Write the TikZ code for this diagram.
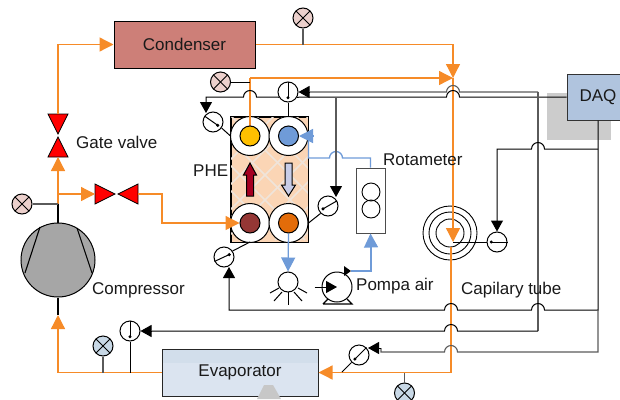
\documentclass[tikz,border=0pt]{standalone}
\usepackage{fontspec}
\setmainfont{Liberation Sans}
\usetikzlibrary{arrows.meta,calc}

\definecolor{pipeorange}{RGB}{246,139,40}
\definecolor{waterblue}{RGB}{111,155,216}
\definecolor{condred}{RGB}{205,127,120}
\definecolor{gaugepink}{RGB}{236,208,204}
\definecolor{gaugeblue}{RGB}{200,216,230}
\definecolor{sigdark}{RGB}{90,90,90}
\definecolor{evapblue}{RGB}{219,228,240}
\definecolor{evapband}{RGB}{210,222,235}
\definecolor{daqblue}{RGB}{176,196,222}
\definecolor{phefill}{RGB}{251,213,181}
\definecolor{phehatch}{RGB}{240,228,218}
\definecolor{hotred}{RGB}{165,0,33}
\definecolor{coolblue}{RGB}{200,205,232}
\definecolor{portyellow}{RGB}{255,192,0}
\definecolor{portred}{RGB}{149,55,53}
\definecolor{portorange}{RGB}{227,108,9}

\tikzset{
  lbl/.style={inner sep=0pt,font=\fontsize{17}{20}\selectfont,text=black!90},
  gauge/.style={circle,draw,fill=white,line width=1pt,minimum size=20pt,inner sep=0pt},
  xgauge/.style={gauge,fill=#1,path picture={
    \draw[line width=1pt] (path picture bounding box.north west) -- (path picture bounding box.south east);
    \draw[line width=1pt] (path picture bounding box.north east) -- (path picture bounding box.south west);}},
  ring/.style={circle,draw,fill=white,line width=1pt,minimum size=39pt,inner sep=0pt},
  port/.style={circle,draw,fill=#1,line width=1pt,minimum size=20pt,inner sep=0pt},
  coil/.style={circle,draw,line width=0.9pt,minimum size=#1,inner sep=0pt},
  unit/.style={draw,line width=1pt,inner sep=0pt},
  valve/.style={draw=black,fill=red,line width=0.7pt},
  pipe/.style={draw=pipeorange,line width=1.3pt},
  pipetip/.style={pipe,-{Triangle[length=14pt,width=14pt,fill=pipeorange]}},
  water/.style={draw=waterblue,line width=1.3pt},
  watertip/.style={water,-{Triangle[length=14pt,width=14pt,fill=waterblue]}},
  sig/.style={draw=black,line width=1pt},
  siggray/.style={draw=sigdark,line width=1.1pt},
  sigtip/.style={-{Triangle[length=11pt,width=12pt,fill=black]}},
}

% hop over a crossing line, going to the left
\newcommand{\hopL}[1]{-- ([xshift=6.5pt]#1) arc[start angle=0,end angle=-180,radius=6.5pt]}
% needle of a gauge
\newcommand{\needle}[2]{
  \draw[line width=1pt] (#1.#2) -- ($(#1.center)!0.55!(#1.#2+180)$);
  \fill ($(#1.center)!0.55!(#1.#2+180)$) circle (1.7pt);
}

\begin{document}
\begin{tikzpicture}[x=1pt,y=1pt,yscale=-1]
\useasboundingbox (0,0) rectangle (620,399);

% shadows
\fill[black!20] (547,93) rectangle (611,140);

% units
\node[unit,fill=condred,minimum width=141pt,minimum height=47pt] (cond) at (184.5,44.5) {};
\node[unit,fill=evapblue,draw=black!85,minimum width=156pt,minimum height=47pt] (evap) at (240,372.5) {};
\fill[evapband] (162.5,349.5) rectangle (317.5,363);
\fill[black!22] (257,399) -- (264,385) -- (273,385) -- (281,399) -- cycle;
\node[unit,fill=daqblue,draw=black!80,minimum width=56pt,minimum height=46pt] (daq) at (595,97) {};
\node[unit,minimum size=74pt,circle,fill=black!35] (comp) at (58,260) {};
\node[unit,draw=black!70,fill=white,minimum width=29pt,minimum height=65pt] (rota) at (370.5,200.5) {};
\node[coil=18pt,draw] (rotaA) at (371,192) {};
\node[coil=18pt,draw] (rotaB) at (371,209) {};

% compressor
\draw[line width=1.1pt] (40,227) -- (25,273);
\draw[line width=1.1pt] (77,228) -- (92,273);

% plate heat exchanger
\node[unit,fill=phefill,minimum width=77pt,minimum height=125pt] (phe) at (269.5,179.5) {};
\begin{scope}
  \clip (phe.south west) rectangle (phe.north east);
  \foreach \i in {0,25,...,225} {
    \draw[phehatch,line width=1.5pt] (100+\i,240) -- (100+\i+130,110);
    \draw[phehatch,line width=1.5pt] (100+\i,110) -- (100+\i+130,240);
  }
\end{scope}
\draw[line width=1pt] (phe.south west) rectangle (phe.north east);
\node[ring] (ringTL) at (250,136) {};
\node[ring] (ringTR) at (288.5,136) {};
\node[ring] (ringBL) at (250,223) {};
\node[ring] (ringBR) at (288.5,223) {};
\coordinate (ringTop) at (250,78);
\draw[pipe] (250,126) -- (ringTop);
\node[port=portyellow] (inTL) at (250,136) {};
\node[port=waterblue] (inTR) at (288.5,136) {};
\node[port=portred] (inBL) at (250,223) {};
\node[port=portorange] (inBR) at (288.5,223) {};
\draw[fill=hotred,line width=1pt] (250,163) -- (256.5,175) -- (253.5,175) -- (253.5,196) -- (246.5,196) -- (246.5,175) -- (243.5,175) -- cycle;
\draw[fill=coolblue,line width=1pt] (288.5,196) -- (295.5,185) -- (292,185) -- (292,163) -- (285,163) -- (285,185) -- (281.5,185) -- cycle;

% capillary tube
\node[coil=54pt] (capC) at (450,233) {};
\node[coil=42pt] (capB) at (450,233) {};
\node[coil=28pt] (capA) at (450,233) {};

% spray and pump
\node[gauge,minimum size=20pt] (spray) at (288,282) {};
\draw[line width=1pt] (288,292) -- (288,305);
\draw[line width=1pt] (282,292) -- (274,301);
\draw[line width=1pt] (294,292) -- (302,301);
\draw[line width=1pt] (279,288) -- (270,293);
\draw[line width=1pt] (298,288) -- (307,293);
\node[gauge,minimum size=30pt] (pump) at (337,287) {};
\draw[line width=1.2pt] (323,304) -- (352,304) -- (347,299) (323,304) -- (328,299);

% gauges
\node[xgauge=gaugepink] (gaCond) at (303,18) {};
\node[xgauge=gaugepink] (gaPhe) at (220.5,82) {};
\node[xgauge=gaugepink] (gaComp) at (22,204) {};
\node[xgauge=gaugeblue] (gaSuct) at (103,346) {};
\node[xgauge=gaugeblue] (gaEvap) at (404.5,393) {};
\node[gauge] (ndTop) at (288,92) {};
\node[gauge] (ndLeft) at (213,122) {};
\node[gauge] (ndRight) at (328,206) {};
\node[gauge] (ndLow) at (224,257) {};
\node[gauge] (ndSuct) at (130,331) {};
\node[gauge] (ndEvap) at (359,355) {};
\node[gauge] (ndCap) at (497,242) {};
\needle{ndTop}{90}
\needle{ndLeft}{145}
\needle{ndRight}{30}
\needle{ndLow}{205}
\needle{ndSuct}{90}
\needle{ndEvap}{45}
\needle{ndCap}{0}

% junctions
\coordinate (mix) at (453,78);
\coordinate (capTip) at (453,242);
\coordinate (splitUp) at (58,194);
\coordinate (gvTop) at (58,114);
\coordinate (gvLow) at (58,157);
\coordinate (hvIn) at (95,194);
\coordinate (hvOut) at (138,194);
\coordinate (pumpOut) at (351,271);
\coordinate (evLeft) at (58,372.5);
\coordinate (capOut) at (451,247);
\coordinate (pipeR) at (451,372.5);
\coordinate (daqL) at (538,92);
\coordinate (daqLow) at (598,310);
\coordinate (daqMid) at (598,149);
\coordinate (hopA) at (453,92);
\coordinate (hopB) at (453,97);
\coordinate (hopC) at (250,97);
\coordinate (hopD) at (336,158);
\coordinate (hopE) at (538,149);
\coordinate (hopF) at (538,310);
\coordinate (hopG) at (451,310);
\coordinate (hopH) at (451,331);
\coordinate (hopI) at (451,352);
\coordinate (tapR) at (336,97);
\coordinate (tipR) at (336,197);
\coordinate (tipLow) at (229,267);
\coordinate (tipLeft) at (206,113);
\coordinate (tipEvap) at (368,348);

% valves
\draw[valve] (48,114) -- (68,114) -- (58,134) -- cycle;
\draw[valve] (58,137) -- (68,157) -- (48,157) -- cycle;
\draw[valve] (95,184) -- (115,194) -- (95,204) -- cycle;
\draw[valve] (118,194) -- (138,184) -- (138,204) -- cycle;

% refrigerant
\draw[line width=1.1pt] (comp.north) -- (58,204);
\draw[pipe] (58,204) -- (splitUp);
\draw[pipetip] (splitUp) -- (gvLow);
\draw[pipetip] (gvTop) |- (cond.west);
\draw[pipetip] (splitUp) -- (hvIn);
\draw[pipe] (hvOut) -- (162,194) -- (162,223) -- (226,223);
\draw[pipetip] (226,223) -- (inBL.west);
\draw[pipe] (cond.east) -| (453,64);
\draw[pipetip] (453,64) -- (mix);
\draw[pipe] (ringTop) -- (440,78);
\draw[pipetip] (440,78) -- (mix);
\draw[pipe] (mix) -- (453,228);
\draw[pipetip] (453,228) -- (capTip);
\draw[pipe] (capOut) -- (pipeR) -- (332,372.5);
\draw[pipetip] (332,372.5) -- (evap.east);
\draw[pipe] (evap.west) -- (evLeft) -- (58,328);
\draw[pipetip] (58,328) -- (58,315);
\draw[line width=1.1pt] (58,315) -- (comp.south);

% water
\draw[watertip] (inBR.south) -- (spray.north);
\draw[water] (pumpOut) -| (371,247);
\draw[watertip] (371,247) -- (rota.south);
\draw[water] (rota.north) |- (342.5,158) \hopL{hopD} -- (ringTR.east |- hopD) -- (ringTR.east);
\draw[watertip] ([xshift=5pt]ringTR.east) -- (inTR.east);
\draw[sigtip,line width=1pt] (pump.west) ++(-7,0) -- (pump.center);
\fill (344,266) -- (351,271) -- (344,276) -- cycle;

% signal lines
\draw[sig] (daq.west |- hopB) \hopL{hopB} -- (ndTop.-30);
\draw[sig] (ndTop.210) \hopL{hopC} -- (tipLeft |- hopC) -- ++(0,6);
\draw[sig,sigtip] (206,103) -- (tipLeft);
\draw[siggray] (daqL) \hopL{hopA} -- (310,92);
\draw[sig,sigtip] (310,92) -- (ndTop.east);
\draw[siggray] (tapR) -- (336,187);
\draw[sig,sigtip] (336,187) -- (tipR);
\draw[siggray] (daqL) -- (538,331);
\draw[sig] (538,331) \hopL{hopH} -- (152,331);
\draw[sig,sigtip] (152,331) -- (ndSuct.east);
\draw[sig] (daq.south -| daqLow) -- (daqLow) \hopL{hopF} \hopL{hopG} -- (229,310) -- (229,277);
\draw[sig,sigtip] (229,277) -- (tipLow);
\draw[siggray] (daqLow) -- (598,352) \hopL{hopI} -- (381,352) -- (381,348);
\draw[sig,sigtip] (381,348) -- (tipEvap);
\draw[sig] (daqMid) \hopL{hopE} -- (497,149) -- (497,221);
\draw[sig,sigtip] (497,221) -- (ndCap.north);

% gauge stems
\draw[siggray,line width=1.2pt] (gaCond.south) -- (gaCond.south |- cond.east);
\draw[sig] (gaPhe.east) -- (250,82);
\draw[siggray] (gaComp.east) -- (58,204);
\draw[siggray] (gaSuct.south) -- (gaSuct.south |- evap.west);
\draw[sig] (ndSuct.south) -- (ndSuct.south |- evap.west);
\draw[siggray] (gaEvap.north) -- (gaEvap.north |- evap.east);
\draw[sig] (ndTop.south) -- (phe.north -| ndTop);
\draw[sig] (ndLeft.-35) -- (phe.north west |- ringTL);
\draw[sig] (ndRight.225) -- (phe.east |- ringBR);
\draw[sig] (ndLow.35) -- (250,242);
\draw[sig] (ndEvap.225) -- (342,372);
\draw[sig] (ndCap.west) -- (capTip);

% labels
\node[lbl,anchor=center] (condTxt) at (184.5,44) {Condenser};
\node[lbl,anchor=center] (evapTxt) at (240,372) {Evaporator};
\node[lbl,anchor=center] (daqTxt) at (598,97) {DAQ};
\node[lbl,anchor=west] (gvTxt) at (76,142) {Gate valve};
\node[lbl,anchor=west] (pheTxt) at (193,171) {PHE};
\node[lbl,anchor=west] (rotaTxt) at (383,160) {Rotameter};
\node[lbl,anchor=west] (compTxt) at (92,290) {Compressor};
\node[lbl,anchor=west] (pompaTxt) at (356,286) {Pompa air};
\node[lbl,anchor=west] (capTxt) at (461,290) {Capilary tube};

\end{tikzpicture}
\end{document}
